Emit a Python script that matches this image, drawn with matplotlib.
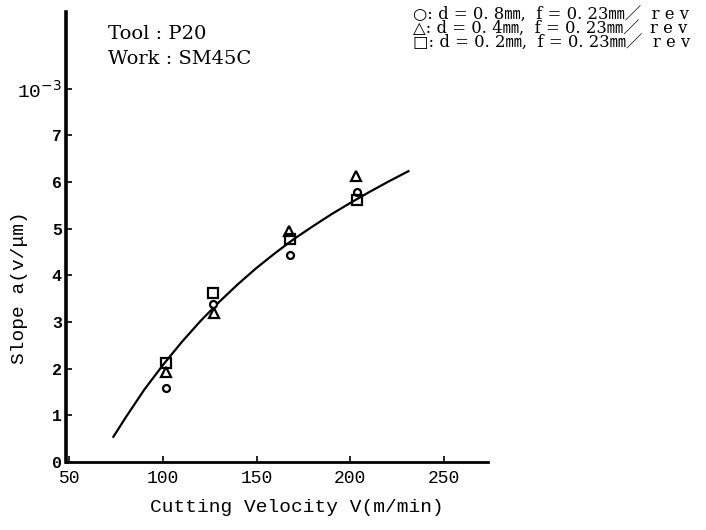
import matplotlib
matplotlib.use("Agg")
import matplotlib.pyplot as plt

# --- data ---
# measured points, cutting velocity V (m/min) vs slope a (x10^-3 V/um)
v_circle = [101.5, 126.5, 168.0, 203.5]
a_circle = [1.59, 3.38, 4.44, 5.79]
v_tri = [101.5, 127.0, 167.5, 203.0]
a_tri = [1.93, 3.20, 4.94, 6.12]
v_square = [101.5, 126.5, 168.0, 203.5]
a_square = [2.12, 3.62, 4.77, 5.62]

# fitted curve, points
curve_v = [73.5, 80, 90, 100, 110, 120, 130, 140, 150, 160, 170, 180,
           190, 200, 210, 220, 231]
curve_a = [0.54, 0.95, 1.55, 2.08, 2.57, 3.02, 3.43, 3.81, 4.16, 4.48,
           4.78, 5.05, 5.31, 5.55, 5.78, 6.00, 6.23]

x_ticks = [50, 100, 150, 200, 250]
y_ticks = [0, 1, 2, 3, 4, 5, 6, 7, 8]
y_ticklabels = ["0", "1", "2", "3", "4", "5", "6", "7", "10$^{-3}$"]

legend_lines = [
    "○: d = 0. 8㎜,  f = 0. 23㎜／  r e v",
    "△: d = 0. 4㎜,  f = 0. 23㎜／  r e v",
    "□: d = 0. 2㎜,  f = 0. 23㎜／  r e v",
]

fig = plt.figure(figsize=(7.06, 5.30), dpi=100)
ax = fig.add_axes([66 / 706, 68 / 530, 422 / 706, 450 / 530])

ax.plot(curve_v, curve_a, color="black", lw=1.6)
ax.plot(v_circle, a_circle, "o", mfc="white", mec="black", mew=1.6, ms=5, ls="none")
ax.plot(v_tri, a_tri, "^", mfc="white", mec="black", mew=1.6, ms=7, ls="none")
ax.plot(v_square, a_square, "s", mfc="none", mec="black", mew=1.6, ms=7, ls="none")

ax.set_xlim(48.2, 273.5)
ax.set_ylim(0, 9.64)

for side in ["top", "right"]:
    ax.spines[side].set_visible(False)
ax.spines["left"].set_linewidth(2.6)
ax.spines["bottom"].set_linewidth(2.0)

ax.set_xticks(x_ticks)
ax.set_xticklabels([str(t) for t in x_ticks], family="Liberation Mono", fontsize=13)
ax.set_yticks(y_ticks)
ax.set_yticklabels(y_ticklabels, family="Liberation Mono", fontsize=12, weight="bold")
ax.get_yticklabels()[-1].set_fontsize(14)
ax.get_yticklabels()[-1].set_weight("normal")
ax.tick_params(axis="both", direction="in", length=4, width=1.2, colors="black")
ax.tick_params(axis="y", pad=3)
ax.tick_params(axis="x", pad=6)

ax.set_xlabel("Cutting Velocity V(m/min)", family="Liberation Mono", fontsize=14)
ax.xaxis.set_label_coords((297 - 66) / 422, -(508 - 462) / 450)
ax.xaxis.label.set_va("center")
ax.set_ylabel("Slope a(v/μm)", family="Liberation Mono", fontsize=14)
ax.yaxis.set_label_coords(-(66 - 20) / 422, (462 - 288) / 450)
ax.yaxis.label.set_va("center")

fig.text(108 / 706, 1 - 34 / 530, "Tool : P20", family="DejaVu Serif",
         fontsize=14, va="center", ha="left")
fig.text(108 / 706, 1 - 59 / 530, "Work : SM45C", family="DejaVu Serif",
         fontsize=14, va="center", ha="left")

# legend block as one multi-line text
fig.text(413 / 706, 1 - 29 / 530, "\n".join(legend_lines),
         family=["DejaVu Serif", "Noto Sans CJK JP"],
         fontsize=11.8, va="center", ha="left", linespacing=0.78)

fig.savefig("out.png", dpi=100)
